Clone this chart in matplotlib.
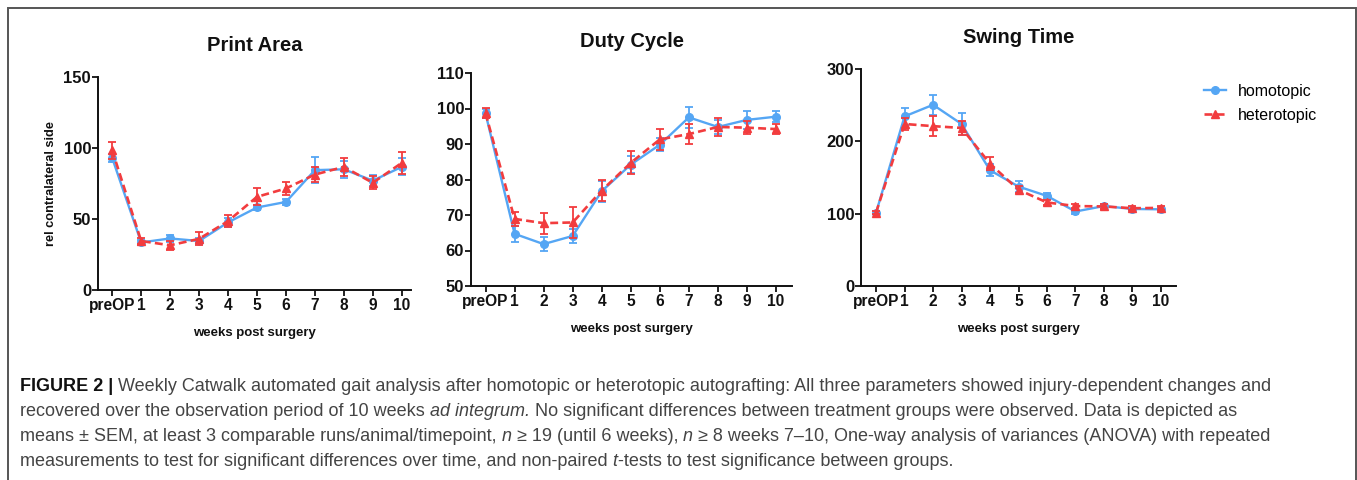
import matplotlib
matplotlib.use("Agg")
import matplotlib.pyplot as plt
from matplotlib.patches import Rectangle
from matplotlib.lines import Line2D

plt.rcParams['font.family'] = ['Liberation Sans', 'DejaVu Sans']

W, H = 1357, 480

timepoints = ["preOP", "1", "2", "3", "4", "5", "6", "7", "8", "9", "10"]

# Print Area (rel. contralateral side)
print_homo = [93, 33.5, 36.3, 34.5, 47.6, 58.1, 62, 84.4, 85, 77, 86.7]
print_homo_err = [3, 2, 2.5, 2, 3, 2, 2, 9, 6, 4, 6]
print_hetero = [98.5, 34.5, 31.5, 36, 48.5, 65.6, 71.5, 81.3, 86.7, 75.5, 89.5]
print_hetero_err = [6, 2, 3, 4.5, 4, 6, 4.5, 5.5, 6.5, 4.5, 7.5]

# Duty Cycle
duty_homo = [98.6, 64.7, 61.8, 64.1, 76.7, 84.2, 89.8, 97.5, 94.8, 96.8, 97.7]
duty_homo_err = [1.2, 2.3, 2.0, 2.0, 3.0, 2.5, 1.8, 3.0, 2.0, 2.5, 1.5]
duty_hetero = [98.7, 68.9, 67.7, 67.9, 76.9, 84.7, 91.3, 92.8, 94.8, 94.6, 94.2]
duty_hetero_err = [1.5, 2.0, 3.0, 4.3, 3.0, 3.2, 3.0, 2.8, 2.6, 1.8, 1.5]

# Swing Time
swing_homo = [101.5, 234.5, 250.5, 224, 160, 137.5, 124.5, 103, 110.5, 106.5, 106]
swing_homo_err = [2, 12, 14, 15, 8, 8, 4, 4, 3, 3, 3]
swing_hetero = [101.5, 224, 221, 218.5, 169, 133, 115.5, 110.5, 110, 107.5, 108]
swing_hetero_err = [2, 8, 14, 10, 9, 5, 3, 3, 3, 3, 3]

BLUE = '#55a6f4'
RED = '#f23c3e'

fig = plt.figure(figsize=(W / 100, H / 100), dpi=100)

# outer frame of the figure panel
fig.add_artist(Rectangle((8 / W, -0.05), (1356 - 8) / W, 1.05 - 8 / H,
                         transform=fig.transFigure, fill=False,
                         edgecolor='#555555', linewidth=1.4))


def px_axes(left, right, top, bottom):
    return fig.add_axes([left / W, 1 - bottom / H, (right - left) / W, (bottom - top) / H])


def panel(ax, title, homo, homo_err, hetero, hetero_err, ylim, yticks, xlim,
          ylabel=None, title_pad=18):
    x = list(range(len(timepoints)))
    ax.errorbar(x, homo, yerr=homo_err, color=BLUE, marker='o', markersize=5.5,
                linewidth=1.7, elinewidth=1.3, capsize=3, capthick=1.3, zorder=3)
    ax.errorbar(x, hetero, yerr=hetero_err, color=RED, marker='^', markersize=6,
                linewidth=1.9, linestyle=(0, (3, 1.6)), elinewidth=1.3, capsize=3,
                capthick=1.3, zorder=4)
    ax.set_xlim(*xlim)
    ax.set_ylim(*ylim)
    ax.set_yticks(yticks)
    ax.set_xticks(x)
    ax.set_xticklabels(timepoints)
    for s in ['top', 'right']:
        ax.spines[s].set_visible(False)
    for s in ['left', 'bottom']:
        ax.spines[s].set_linewidth(1.4)
        ax.spines[s].set_color('#111111')
    ax.tick_params(axis='both', direction='out', length=4, width=1.3, colors='#111111')
    ax.tick_params(axis='y', labelsize=12, pad=1)
    ax.tick_params(axis='x', labelsize=11.2, pad=2)
    for lab in ax.get_xticklabels() + ax.get_yticklabels():
        lab.set_fontweight('bold')
    ax.set_title(title, fontsize=14.5, fontweight='bold', pad=title_pad, color='#111111')
    ax.set_xlabel('weeks post surgery', fontsize=9.5, fontweight='bold', labelpad=10,
                  color='#111111')
    if ylabel:
        ax.set_ylabel(ylabel, fontsize=9.2, fontweight='bold', labelpad=4.5, color='#111111')


ax1 = px_axes(98, 411, 77, 290)
panel(ax1, 'Print Area', print_homo, print_homo_err, print_hetero, print_hetero_err,
      (0, 150), [0, 50, 100, 150], (-0.49, 10.32), ylabel='rel contralateral side',
      title_pad=19)

ax2 = px_axes(471, 792, 73, 286)
panel(ax2, 'Duty Cycle', duty_homo, duty_homo_err, duty_hetero, duty_hetero_err,
      (50, 110), [50, 60, 70, 80, 90, 100, 110], (-0.5, 10.55), title_pad=18.5)

ax3 = px_axes(861, 1176, 69, 286)
panel(ax3, 'Swing Time', swing_homo, swing_homo_err, swing_hetero, swing_hetero_err,
      (0, 300), [0, 100, 200, 300], (-0.53, 10.53), title_pad=18.5)

handles = [
    Line2D([], [], color=BLUE, marker='o', markersize=5.5, linewidth=1.7),
    Line2D([], [], color=RED, marker='^', markersize=6, linewidth=1.9, linestyle=(0, (3, 1.6))),
]
fig.legend(handles, ['homotopic', 'heterotopic'], loc='upper left',
           bbox_to_anchor=(1196 / W, 1 - 76 / H), frameon=False, fontsize=11.5,
           handlelength=1.4, handletextpad=0.7, labelspacing=0.55, borderpad=0)

# caption, written run by run so italic words sit inline
caption = [
    [("FIGURE 2 | ", 'bold', 'normal'),
     ("Weekly Catwalk automated gait analysis after homotopic or heterotopic autografting: "
      "All three parameters showed injury-dependent changes and", 'normal', 'normal')],
    [("recovered over the observation period of 10 weeks ", 'normal', 'normal'),
     ("ad integrum.", 'normal', 'italic'),
     (" No significant differences between treatment groups were observed. Data is depicted as",
      'normal', 'normal')],
    [("means \u00b1 SEM, at least 3 comparable runs/animal/timepoint, ", 'normal', 'normal'),
     ("n", 'normal', 'italic'),
     (" \u2265 19 (until 6 weeks), ", 'normal', 'normal'),
     ("n", 'normal', 'italic'),
     (" \u2265 8 weeks 7\u201310, One-way analysis of variances (ANOVA) with repeated",
      'normal', 'normal')],
    [("measurements to test for significant differences over time, and non-paired ",
      'normal', 'normal'),
     ("t", 'normal', 'italic'),
     ("-tests to test significance between groups.", 'normal', 'normal')],
]

renderer = fig.canvas.get_renderer()
CAP_SIZE = 13.0


def text_width(s, weight, style):
    # measure with a trailing marker so trailing spaces count
    t = fig.text(0, 0, s + "|", fontsize=CAP_SIZE, fontweight=weight, fontstyle=style)
    m = fig.text(0, 0, "|", fontsize=CAP_SIZE, fontweight=weight, fontstyle=style)
    w = t.get_window_extent(renderer).width - m.get_window_extent(renderer).width
    t.remove()
    m.remove()
    return w


baselines = [391, 416, 441, 466]
for line, yb in zip(caption, baselines):
    xpx = 20
    for s, weight, style in line:
        color = '#111111' if weight == 'bold' else '#444444'
        fig.text(xpx / W, 1 - yb / H, s, fontsize=CAP_SIZE, fontweight=weight,
                 fontstyle=style, color=color, va='baseline', ha='left')
        xpx += text_width(s, weight, style)

fig.savefig('out.png', dpi=100)
